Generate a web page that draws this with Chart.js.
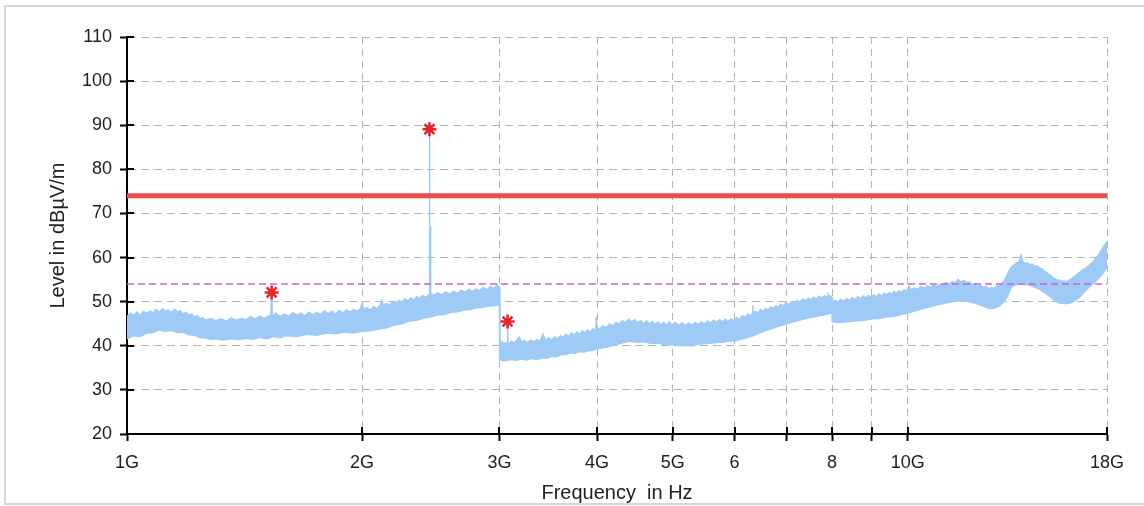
<!DOCTYPE html>
<html>
<head>
<meta charset="utf-8">
<script src="https://cdn.jsdelivr.net/npm/chart.js@4.4.1/dist/chart.umd.min.js"></script>
<style>
  html, body { margin: 0; padding: 0; background: #fff; }
  canvas { display: block; }
</style>
</head>
<body>
<canvas id="scan" width="1144" height="506"></canvas>
<script>
// ======================
// Radiated emission scan 1G - 18G (frequency in GHz, level in dBuV/m)
// ======================

// upper edge of the measured trace
const traceMaxFreq = [
  1.00, 1.01, 1.02, 1.03, 1.04, 1.05, 1.06, 1.07, 1.08, 1.09, 1.10, 1.11, 1.12, 1.13, 1.14, 1.15, 1.16, 1.17, 1.18, 1.19,
  1.20, 1.21, 1.22, 1.23, 1.24, 1.25, 1.26, 1.28, 1.30, 1.32, 1.34, 1.36, 1.38, 1.40, 1.42, 1.44, 1.46, 1.48, 1.50, 1.52,
  1.528, 1.532, 1.536, 1.55, 1.57, 1.59, 1.61, 1.63, 1.65, 1.67, 1.69, 1.71, 1.73, 1.75, 1.77, 1.79, 1.81, 1.83, 1.85, 1.87,
  1.89, 1.91, 1.93, 1.95, 1.97, 1.99, 2.00, 2.01, 2.03, 2.05, 2.07, 2.09, 2.11, 2.12, 2.13, 2.15, 2.17, 2.19, 2.21, 2.23,
  2.25, 2.27, 2.29, 2.31, 2.33, 2.35, 2.37, 2.39, 2.41, 2.43, 2.437, 2.440, 2.443, 2.446, 2.449, 2.47, 2.50, 2.53, 2.56, 2.59,
  2.62, 2.65, 2.68, 2.71, 2.74, 2.77, 2.80, 2.83, 2.86, 2.89, 2.92, 2.95, 2.98, 3.00,
  3.002, 3.004, 3.02, 3.04, 3.068, 3.072, 3.076, 3.09, 3.11, 3.13, 3.15, 3.18, 3.20, 3.23, 3.26, 3.29, 3.32, 3.35, 3.38, 3.41,
  3.44, 3.47, 3.50, 3.53, 3.56, 3.59, 3.62, 3.65, 3.68, 3.71, 3.74, 3.77, 3.80, 3.83, 3.86, 3.89, 3.92, 3.95, 3.985, 3.99,
  3.995, 4.03, 4.07, 4.11, 4.15, 4.19, 4.23, 4.27, 4.31, 4.35, 4.39, 4.43, 4.47, 4.51, 4.55, 4.59, 4.63, 4.67, 4.71, 4.75,
  4.79, 4.83, 4.87, 4.91, 4.95, 4.99, 5.04, 5.09, 5.14, 5.19, 5.24, 5.29, 5.34, 5.39, 5.44, 5.49, 5.54, 5.59, 5.64, 5.69,
  5.74, 5.79, 5.84, 5.89, 5.94, 5.99, 6.04, 6.09, 6.14, 6.19, 6.24, 6.29, 6.325, 6.33, 6.335, 6.38, 6.43, 6.48, 6.53, 6.58,
  6.63, 6.68, 6.73, 6.78, 6.83, 6.88, 6.93, 6.98, 7.04, 7.10, 7.16, 7.22, 7.28, 7.34, 7.40, 7.46, 7.52, 7.58, 7.64, 7.70,
  7.76, 7.82, 7.895, 7.90, 7.905, 7.95, 8.00,
  8.01, 8.07, 8.14, 8.21, 8.28, 8.35, 8.42, 8.49, 8.56, 8.63, 8.70, 8.77, 8.84, 8.91, 8.98, 9.05, 9.12, 9.19, 9.26, 9.33,
  9.40, 9.47, 9.54, 9.61, 9.68, 9.75, 9.82, 9.89, 9.96, 10.04, 10.12, 10.2, 10.3, 10.4, 10.5, 10.6, 10.7, 10.8, 10.9, 11.0,
  11.1, 11.2, 11.3, 11.4, 11.5, 11.6, 11.7, 11.8, 11.9, 12.0, 12.1, 12.2, 12.3, 12.4, 12.5, 12.6, 12.7, 12.8, 12.9, 13.0,
  13.1, 13.2, 13.3, 13.4, 13.5, 13.6, 13.7, 13.8, 13.9, 13.97, 14.05, 14.15, 14.25, 14.35, 14.45, 14.55, 14.65, 14.75, 14.85, 14.95,
  15.05, 15.15, 15.25, 15.35, 15.45, 15.55, 15.65, 15.75, 15.85, 15.95, 16.05, 16.15, 16.25, 16.35, 16.45, 16.55, 16.65, 16.75, 16.85, 16.95,
  17.05, 17.15, 17.25, 17.35, 17.45, 17.55, 17.65, 17.75, 17.85, 17.95, 18.0
];
const traceMaxLevel = [
  46.6, 47.4, 46.9, 47.6, 47.0, 47.8, 47.3, 47.9, 47.4, 48.2, 47.6, 48.4, 47.8, 48.1, 47.5, 48.3, 47.6, 47.9, 47.2, 47.6,
  46.9, 47.2, 46.5, 46.8, 46.1, 46.4, 45.8, 46.2, 45.7, 46.1, 45.6, 46.3, 45.8, 46.2, 45.9, 46.6, 46.1, 46.7, 46.2, 46.8,
  46.5, 52.3, 46.6, 47.4, 46.6, 47.2, 46.7, 47.5, 46.9, 47.4, 46.8, 47.6, 47.0, 47.5, 47.1, 47.9, 47.3, 47.8, 47.2, 48.0,
  47.4, 48.1, 47.6, 48.2, 47.8, 48.4, 49.5, 48.2, 48.6, 48.1, 48.9, 48.4, 49.2, 50.3, 49.1, 49.6, 49.2, 50.0, 49.6, 50.3,
  49.9, 50.6, 50.2, 50.9, 50.4, 51.1, 50.7, 51.4, 50.9, 51.5, 51.2, 89.2, 51.6, 67.0, 51.8, 51.4, 52.0, 51.5, 52.2, 51.7,
  52.4, 51.9, 52.6, 52.1, 52.8, 52.3, 52.9, 52.5, 53.2, 52.7, 53.4, 53.0, 53.8, 53.2,
  44.0, 40.4, 40.9, 40.5, 40.7, 45.3, 40.8, 40.5, 41.0, 40.6, 41.1, 42.0, 40.8, 41.2, 40.7, 41.3, 40.9, 41.4, 41.0, 42.6,
  41.2, 41.8, 41.3, 42.0, 41.6, 42.3, 41.9, 42.6, 42.1, 42.9, 42.4, 43.1, 42.6, 43.4, 42.9, 43.6, 43.1, 43.8, 43.5, 46.5,
  43.6, 43.9, 44.5, 44.1, 44.9, 44.5, 45.3, 44.9, 45.7, 45.2, 46.0, 45.4, 45.9, 45.2, 45.7, 45.0, 45.6, 44.9, 45.5, 44.8,
  45.4, 44.7, 45.3, 44.6, 45.4, 44.7, 45.3, 44.6, 45.2, 44.5, 45.1, 44.6, 45.3, 44.8, 45.4, 44.9, 45.6, 45.1, 45.8, 45.3,
  45.9, 45.4, 46.0, 45.5, 46.1, 45.7, 46.4, 46.0, 46.8, 46.4, 47.2, 46.8, 47.3, 49.2, 47.4, 47.8, 47.4, 48.2, 47.8, 48.5,
  48.1, 48.8, 48.4, 49.1, 48.7, 49.4, 49.0, 49.7, 49.3, 50.0, 49.6, 50.3, 49.9, 50.6, 50.2, 50.8, 50.4, 51.0, 50.6, 51.2,
  50.8, 51.3, 51.0, 52.0, 51.1, 51.4, 51.0,
  49.8, 50.3, 49.9, 50.5, 50.1, 50.7, 50.3, 50.9, 50.5, 51.1, 50.7, 51.3, 50.8, 51.4, 51.0, 51.5, 51.1, 51.7, 51.3, 51.9,
  51.5, 52.1, 51.7, 52.3, 51.9, 52.5, 52.1, 52.7, 52.3, 53.5, 52.6, 53.1, 52.8, 53.4, 53.0, 53.6, 53.2, 53.8, 53.4, 54.0,
  53.7, 54.3, 53.9, 54.6, 54.2, 55.0, 54.4, 54.8, 54.3, 54.5, 53.9, 54.1, 53.5, 53.7, 53.2, 53.4, 52.9, 53.2, 53.0, 53.6,
  53.5, 54.2, 54.8, 56.0, 57.2, 58.0, 58.4, 58.8, 59.1, 60.5, 58.9, 58.6, 58.8, 58.3, 58.5, 58.0, 58.1, 57.6, 57.5, 57.0,
  56.7, 56.2, 55.9, 55.4, 55.2, 54.8, 54.9, 54.5, 54.7, 54.4, 54.8, 55.0, 55.3, 55.8, 56.0, 56.5, 56.8, 57.2, 57.4, 57.8,
  58.1, 58.6, 58.9, 59.5, 60.0, 60.6, 61.3, 62.0, 62.7, 63.3, 63.6
];

// lower edge of the measured trace
const traceMinFreq = [
  1.00, 1.02, 1.04, 1.06, 1.08, 1.10, 1.12, 1.14, 1.16, 1.18, 1.20, 1.22, 1.24, 1.26, 1.28, 1.30, 1.33, 1.36, 1.39, 1.42,
  1.45, 1.48, 1.51, 1.54, 1.57, 1.60, 1.65, 1.70, 1.75, 1.80, 1.85, 1.90, 1.95, 2.00, 2.05, 2.10, 2.15, 2.20, 2.25, 2.30,
  2.35, 2.40, 2.45, 2.50, 2.55, 2.60, 2.65, 2.70, 2.75, 2.80, 2.85, 2.90, 2.95, 3.00,
  3.001, 3.05, 3.10, 3.15, 3.20, 3.25, 3.30, 3.35, 3.40, 3.45, 3.50, 3.55, 3.60, 3.65, 3.70, 3.75, 3.80, 3.85, 3.90, 3.95,
  4.00, 4.10, 4.20, 4.30, 4.40, 4.50, 4.60, 4.70, 4.80, 4.90, 5.00, 5.10, 5.20, 5.30, 5.40, 5.50, 5.60, 5.70, 5.80, 5.90,
  6.00, 6.15, 6.30, 6.45, 6.60, 6.80, 7.00, 7.20, 7.40, 7.60, 7.80, 8.00,
  8.001, 8.15, 8.30, 8.45, 8.60, 8.80, 9.00, 9.20, 9.40, 9.60, 9.80, 10.0, 10.25, 10.5, 10.75, 11.0, 11.25, 11.5, 11.75, 12.0,
  12.25, 12.5, 12.65, 12.8, 12.95, 13.1, 13.25, 13.4, 13.5, 13.6, 13.8, 14.0, 14.25, 14.5, 14.75, 15.0, 15.25, 15.5, 15.65, 15.8,
  16.0, 16.2, 16.4, 16.6, 16.8, 17.0, 17.2, 17.4, 17.6, 17.8, 18.0
];
const traceMinLevel = [
  41.6, 42.3, 42.1, 42.9, 43.0, 43.6, 43.3, 43.5, 43.0, 43.1, 42.5, 42.4, 41.9, 41.8, 41.5, 41.6, 41.3, 41.6, 41.4, 41.7,
  41.5, 41.9, 41.6, 42.1, 41.8, 42.3, 42.1, 42.6, 42.4, 42.9, 42.7, 43.1, 42.9, 43.3, 43.4, 43.8, 44.1, 44.7, 45.0, 45.6,
  45.8, 46.3, 46.5, 47.0, 47.1, 47.6, 47.7, 48.1, 48.2, 48.6, 48.7, 49.0, 49.1, 49.3,
  36.8, 36.6, 36.9, 36.7, 37.0, 36.8, 37.1, 36.9, 37.3, 37.2, 37.6, 37.5, 38.0, 38.0, 38.4, 38.3, 38.7, 38.6, 38.9, 39.0,
  39.3, 39.6, 40.1, 40.6, 41.0, 40.8, 40.9, 40.5, 40.6, 40.2, 40.3, 40.0, 40.1, 40.0, 40.4, 40.5, 40.6, 40.8, 40.8, 41.1,
  41.1, 41.6, 42.1, 42.9, 43.5, 44.3, 45.0, 45.6, 46.2, 46.6, 47.0, 47.4,
  45.5, 45.3, 45.4, 45.5, 45.7, 45.8, 46.1, 46.2, 46.6, 46.7, 47.1, 47.4, 48.0, 48.5, 49.0, 49.4, 49.8, 50.1, 50.2, 50.0,
  49.6, 49.0, 48.6, 48.4, 48.6, 49.0, 49.8, 51.0, 52.3, 53.5, 53.9, 54.0, 53.8, 53.4, 52.8, 52.0, 51.0, 50.0, 49.7, 49.6,
  49.6, 49.8, 50.3, 51.0, 52.0, 53.0, 53.8, 54.6, 55.5, 56.5, 57.9
];

// marked peaks
const peakFreq = [1.532, 2.440, 3.072];
const peakLevel = [52.1, 89.1, 45.5];

// limits
const limitPeak = 74;
const limitAvg = 54;
const freqStart = 1;
const freqStop = 18;

// axes
const xTickValues = [1, 2, 3, 4, 5, 6, 7, 8, 9, 10, 18];
const xTickLabels = ["1G", "2G", "3G", "4G", "5G", "6", "", "8", "", "10G", "18G"];
const yMin = 20;
const yMax = 110;

const FONT = "'Liberation Sans', Arial, sans-serif";
const TRACE = "#9dcbf5";

const pts = (xs, ys) => xs.map((x, i) => ({ x, y: ys[i] }));

// short tick marks on the inner side of both axes
const innerTicks = {
  id: "innerTicks",
  beforeDatasetsDraw(chart){
    const { ctx, chartArea, scales } = chart;
    ctx.save();
    ctx.strokeStyle = "#000";
    ctx.lineWidth = 2;
    ctx.beginPath();
    scales.y.ticks.forEach(t => {
      const y = Math.round(scales.y.getPixelForValue(t.value));
      ctx.moveTo(chartArea.left, y);
      ctx.lineTo(chartArea.left + 7, y);
    });
    scales.x.ticks.forEach(t => {
      const x = Math.round(scales.x.getPixelForValue(t.value));
      ctx.moveTo(x, chartArea.bottom);
      ctx.lineTo(x, chartArea.bottom - 7);
    });
    ctx.stroke();
    ctx.restore();
  }
};

// light frame around the whole graphic
const frame = {
  id: "frame",
  beforeDraw(chart){
    const { ctx } = chart;
    ctx.save();
    ctx.strokeStyle = "#d6d6d6";
    ctx.lineWidth = 2;
    ctx.strokeRect(5, 6, 1200, 498);
    ctx.restore();
  }
};

new Chart(document.getElementById("scan"), {
  type: "line",
  data: {
    datasets: [
      {
        label: "Peaks",
        data: pts(peakFreq, peakLevel),
        showLine: false,
        pointStyle: "star",
        pointRadius: 7,
        pointBorderWidth: 2.5,
        pointBorderColor: "#e8232b",
        pointBackgroundColor: "#e8232b"
      },
      {
        label: "Average limit",
        data: pts([freqStart, freqStop], [limitAvg, limitAvg]),
        borderColor: "#d15fd6",
        borderWidth: 1.5,
        borderDash: [7, 4],
        pointRadius: 0
      },
      {
        label: "Peak limit",
        data: pts([freqStart, freqStop], [limitPeak, limitPeak]),
        borderColor: "#f04c4c",
        borderWidth: 5,
        pointRadius: 0
      },
      {
        label: "Max",
        data: pts(traceMaxFreq, traceMaxLevel),
        borderColor: TRACE,
        backgroundColor: TRACE,
        borderWidth: 1.5,
        pointRadius: 0,
        fill: "+1"
      },
      {
        label: "Min",
        data: pts(traceMinFreq, traceMinLevel),
        borderColor: TRACE,
        borderWidth: 1.5,
        pointRadius: 0,
        fill: false
      }
    ]
  },
  options: {
    responsive: false,
    animation: false,
    devicePixelRatio: 1,
    layout: { padding: { top: 37, right: 37, left: 0, bottom: 0 } },
    plugins: {
      legend: { display: false },
      tooltip: { enabled: false }
    },
    elements: { line: { tension: 0 } },
    scales: {
      x: {
        type: "logarithmic",
        min: freqStart,
        max: freqStop,
        afterBuildTicks: (scale) => { scale.ticks = xTickValues.map(v => ({ value: v })); },
        afterFit: (scale) => { scale.height = 72; },
        ticks: {
          autoSkip: false,
          maxRotation: 0,
          padding: 11,
          color: "#222",
          font: { family: FONT, size: 18 },
          callback: (v, i) => xTickLabels[i]
        },
        grid: {
          color: "#b4b4b4",
          lineWidth: 1,
          tickLength: 7,
          tickColor: "#000",
          tickWidth: 2
        },
        border: { color: "#000", width: 2, dash: [7, 5] },
        title: {
          display: true,
          text: "Frequency  in Hz",
          color: "#222",
          font: { family: FONT, size: 20 },
          padding: { top: 0, bottom: 1 }
        }
      },
      y: {
        min: yMin,
        max: yMax,
        afterFit: (scale) => { scale.width = 127; },
        ticks: {
          stepSize: 5,
          padding: 8,
          color: "#222",
          font: { family: FONT, size: 18 },
          callback: (v) => (v % 10 === 0 ? String(v) : "")
        },
        grid: {
          color: "#b4b4b4",
          lineWidth: 1,
          tickLength: 7,
          tickColor: "#000",
          tickWidth: 2
        },
        border: { color: "#000", width: 2, dash: [8, 5] },
        title: {
          display: true,
          text: "Level in dBµV/m",
          color: "#222",
          font: { family: FONT, size: 20 },
          padding: { top: 46, bottom: 0 }
        }
      }
    }
  },
  plugins: [frame, innerTicks]
});
</script>
</body>
</html>
